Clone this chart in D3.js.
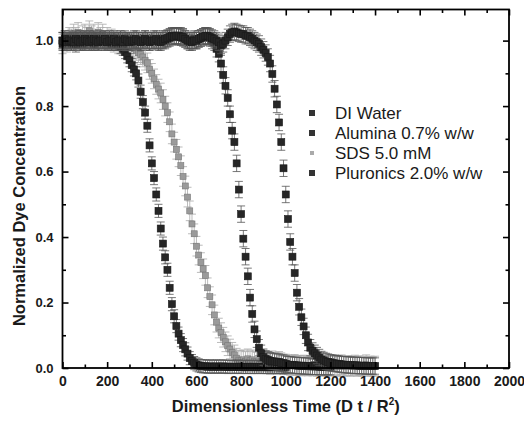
<!DOCTYPE html>
<html><head><meta charset="utf-8">
<script src="https://cdn.jsdelivr.net/npm/d3@7"></script>
<style>
body{margin:0;background:#fff}
svg{display:block}
text{font-family:Arial,"Liberation Sans",sans-serif}
</style>
</head><body>
<svg id="chart" width="524" height="421"></svg>
<script>
// ---- data ----
const seriesNames = ["DI Water", "Alumina 0.7% w/w", "SDS 5.0 mM", "Pluronics 2.0% w/w"];
const time = [0,10,20,30,40,50,60,70,80,90,100,110,120,130,140,150,160,170,180,190,
200,210,220,230,240,250,260,270,280,290,300,310,320,330,340,350,360,370,380,390,
400,410,420,430,440,450,460,470,480,490,500,510,520,530,540,550,560,570,580,590,
600,610,620,630,640,650,660,670,680,690,700,710,720,730,740,750,760,770,780,790,
800,810,820,830,840,850,860,870,880,890,900,910,920,930,940,950,960,970,980,990,
1000,1010,1020,1030,1040,1050,1060,1070,1080,1090,1100,1110,1120,1130,1140,1150,1160,1170,1180,1190,
1200,1210,1220,1230,1240,1250,1260,1270,1280,1290,1300,1310,1320,1330,1340,1350,1360,1370,1380,1390,1400];

const diWater = [
0.99,1.0,0.995,1.0,0.99,1.0,1.005,0.995,1.0,0.99,
1.0,0.995,1.005,1.0,0.99,1.0,0.995,1.0,1.005,0.995,
1.0,0.995,0.99,1.0,0.995,0.99,0.98,0.975,0.965,0.952,
0.94,0.925,0.912,0.9,0.878,0.844,0.812,0.78,0.74,0.68,
0.625,0.58,0.53,0.48,0.426,0.38,0.338,0.3,0.245,0.195,
0.158,0.128,0.105,0.085,0.07,0.057,0.044,0.03,0.021,0.015,
0.011,0.008,0.006,0.005,0.005,0.004,0.005,0.004,0.004,0.005,
0.004,0.004,0.005,0.004,0.003,0.004,0.004,0.003,0.004,0.004,
0.003,0.004,0.003,0.003,0.004,0.003,0.003,0.003,0.004,0.003,
0.003,0.003,0.003,0.002,0.003,0.003,0.002,0.003,0.003,0.002,
0.003];

const alumina = [
1.0,0.995,1.0,1.005,0.995,1.0,0.99,1.0,1.005,1.0,
0.995,1.0,1.005,0.995,1.0,1.0,0.995,1.005,1.0,0.995,
1.0,1.005,0.995,1.0,0.995,1.0,1.005,1.0,0.995,1.0,
1.0,0.995,1.005,1.0,1.0,0.995,1.0,1.005,1.0,0.995,
1.0,1.005,1.0,0.995,1.0,1.005,1.0,1.005,1.008,1.012,
1.015,1.015,1.012,1.015,1.008,1.005,1.0,0.995,1.0,1.005,
1.0,1.005,1.008,1.012,1.015,1.012,1.008,1.0,0.995,0.975,
0.96,0.93,0.895,0.862,0.825,0.775,0.725,0.69,0.625,0.545,
0.47,0.395,0.34,0.28,0.215,0.165,0.118,0.088,0.062,0.045,
0.033,0.028,0.025,0.022,0.02,0.02,0.018,0.018,0.015,0.015,
0.012,0.01,0.01,0.009,0.008,0.008,0.007,0.007,0.006,0.006,
0.006,0.005,0.005,0.005,0.005,0.004,0.004,0.004,0.004,0.004,
0.004];

const sds = [
0.99,1.0,0.995,1.01,1.005,1.02,1.01,1.025,1.0,1.015,
1.02,1.01,1.03,1.015,1.02,1.005,1.025,1.01,1.02,1.0,
1.01,1.0,1.005,0.995,1.0,0.99,1.0,0.995,0.99,0.99,
0.985,0.98,0.975,0.97,0.963,0.957,0.95,0.94,0.932,0.912,
0.9,0.883,0.866,0.852,0.84,0.82,0.8,0.78,0.752,0.715,
0.69,0.668,0.645,0.618,0.585,0.556,0.522,0.48,0.44,0.41,
0.372,0.345,0.322,0.303,0.283,0.245,0.218,0.193,0.162,0.14,
0.122,0.108,0.094,0.08,0.068,0.058,0.048,0.04,0.03,0.024,
0.022,0.025,0.02,0.028,0.022,0.025,0.02,0.018,0.022,0.02,
0.024,0.018,0.02,0.016,0.022,0.018,0.015,0.02,0.016,0.012,
0.012,0.01,0.008,0.009,0.011,0.007,0.008,0.006,0.009,0.007,
0.006,0.008,0.006,0.01,0.005,0.007,0.009,0.005,0.006,0.007,
0.008,0.005,0.009,0.006,0.005,0.01,0.005,0.006,0.008,0.005,
0.006,0.009,0.005,0.007,0.005,0.006,0.01,0.005,0.006,0.005,
0.006];

const pluronics = [
1.0,1.005,0.995,1.0,1.0,0.995,1.005,1.0,0.995,1.0,
1.005,1.0,0.995,1.0,1.005,1.0,0.995,1.0,1.0,1.005,
0.995,1.0,1.0,1.005,0.995,1.0,1.0,0.995,1.005,1.0,
0.995,1.0,1.0,1.005,1.0,0.995,1.0,1.005,1.0,0.995,
1.0,1.0,1.005,1.0,0.995,1.0,1.005,1.008,1.012,1.015,
1.012,1.015,1.015,1.01,1.012,1.005,1.0,1.0,0.995,1.0,
1.0,1.005,1.008,1.012,1.015,1.015,1.012,1.008,1.005,1.0,
0.995,0.985,0.99,1.0,1.01,1.02,1.025,1.028,1.025,1.022,
1.02,1.02,1.015,1.015,1.01,1.005,1.0,0.995,0.99,0.98,
0.972,0.962,0.95,0.93,0.898,0.853,0.805,0.75,0.69,0.61,
0.53,0.455,0.385,0.34,0.29,0.23,0.187,0.155,0.127,0.1,
0.078,0.062,0.052,0.045,0.038,0.032,0.026,0.023,0.02,0.018,
0.016,0.015,0.014,0.013,0.012,0.011,0.01,0.01,0.009,0.009,
0.008,0.008,0.008,0.007,0.007,0.007,0.006,0.006,0.006,0.006,
0.006];

const seriesErrors = [0.02, 0.025, 0.03, 0.025];
const xTicks = [0,200,400,600,800,1000,1200,1400,1600,1800,2000];
const xMinorTicks = [100,300,500,700,900,1100,1300,1500,1700,1900];
const yTicks = [0.0,0.2,0.4,0.6,0.8,1.0];
const yMinorTicks = [0.1,0.3,0.5,0.7,0.9];
const xTitle = "Dimensionless Time (D t / R";
const yTitle = "Normalized Dye Concentration";

// ---- build ----
const allValues = [diWater, alumina, sds, pluronics];
const seriesFill = ["#262626", "#262626", "#9a9a9a", "#262626"];
const seriesStroke = ["#1a1a1a", "#1a1a1a", "#777", "#1a1a1a"];
const errColor = ["#555", "#555", "#aaa", "#555"];

const svg = d3.select("#chart");
const L = 62.5, R = 509, T = 9.5, B = 368;
const x = d3.scaleLinear().domain([0, 2000]).range([L, R]);
const y = d3.scaleLinear().domain([0, 1.095]).range([B, T]);

const plot = svg.append("g");
const drawOrder = [2, 0, 1, 3];
drawOrder.forEach(si => {
  const vals = allValues[si];
  const pts = vals.map((v, i) => ({t: time[i], v}));
  const e = seriesErrors[si];
  const g = plot.append("g");
  const eb = g.selectAll("g.eb").data(pts).enter().append("g")
    .attr("stroke", errColor[si]).attr("stroke-width", 0.8);
  eb.append("line").attr("x1", d => x(d.t)).attr("x2", d => x(d.t))
    .attr("y1", d => y(d.v - e)).attr("y2", d => y(d.v + e));
  eb.append("line").attr("x1", d => x(d.t) - 4).attr("x2", d => x(d.t) + 4)
    .attr("y1", d => y(d.v + e)).attr("y2", d => y(d.v + e));
  eb.append("line").attr("x1", d => x(d.t) - 4).attr("x2", d => x(d.t) + 4)
    .attr("y1", d => y(d.v - e)).attr("y2", d => y(d.v - e));
  const s = si === 2 ? 6 : 7;
  g.selectAll("rect").data(pts).enter().append("rect")
    .attr("x", d => x(d.t) - s / 2).attr("y", d => y(d.v) - s / 2)
    .attr("width", s).attr("height", s)
    .attr("fill", seriesFill[si]).attr("stroke", seriesStroke[si]).attr("stroke-width", 0.6);
});

// axes
const axisStyle = g => {
  g.select(".domain").remove();
  g.selectAll("line").attr("stroke", "#000").attr("stroke-width", 1.6);
  g.selectAll("text").attr("font-weight", "bold").attr("fill", "#1a1a1a");
};
svg.append("g").attr("transform", `translate(0,${B})`)
  .call(d3.axisBottom(x).tickValues(xTicks).tickSize(-6).tickPadding(8).tickFormat(d3.format("d")))
  .call(axisStyle).call(g => g.selectAll("text").attr("font-size", 14));
svg.append("g").attr("transform", `translate(0,${B})`)
  .call(d3.axisBottom(x).tickValues(xMinorTicks).tickSize(-3.5).tickFormat("")).call(axisStyle);
svg.append("g").attr("transform", `translate(0,${T})`)
  .call(d3.axisTop(x).tickValues(xTicks).tickSize(-6).tickFormat("")).call(axisStyle);
svg.append("g").attr("transform", `translate(0,${T})`)
  .call(d3.axisTop(x).tickValues(xMinorTicks).tickSize(-3.5).tickFormat("")).call(axisStyle);
svg.append("g").attr("transform", `translate(${L},0)`)
  .call(d3.axisLeft(y).tickValues(yTicks).tickSize(-6).tickPadding(9).tickFormat(d3.format(".1f")))
  .call(axisStyle).call(g => g.selectAll("text").attr("font-size", 13));
svg.append("g").attr("transform", `translate(${L},0)`)
  .call(d3.axisLeft(y).tickValues(yMinorTicks).tickSize(-3.5).tickFormat("")).call(axisStyle);
svg.append("g").attr("transform", `translate(${R},0)`)
  .call(d3.axisRight(y).tickValues(yTicks).tickSize(-6).tickFormat("")).call(axisStyle);
svg.append("g").attr("transform", `translate(${R},0)`)
  .call(d3.axisRight(y).tickValues(yMinorTicks).tickSize(-3.5).tickFormat("")).call(axisStyle);

svg.append("rect").attr("x", L).attr("y", T).attr("width", R - L).attr("height", B - T)
  .attr("fill", "none").attr("stroke", "#000").attr("stroke-width", 1.8);

// titles
const xt = svg.append("text").attr("x", (L + R) / 2).attr("y", 412).attr("text-anchor", "middle")
  .attr("font-size", 16.5).attr("font-weight", "bold").attr("fill", "#1a1a1a");
xt.append("tspan").text(xTitle);
xt.append("tspan").attr("dy", -7).attr("font-size", 10).text("2");
xt.append("tspan").attr("dy", 7).text(")");

svg.append("text").attr("transform", "translate(25,206) rotate(-90)")
  .attr("text-anchor", "middle").attr("font-size", 16.5).attr("font-weight", "bold")
  .attr("fill", "#1a1a1a").text(yTitle);

// legend
const legY = [113, 133, 153, 173];
const leg = svg.append("g");
seriesNames.forEach((n, i) => {
  const s = i === 2 ? 4 : 6;
  leg.append("rect").attr("x", 312 - s / 2).attr("y", legY[i] - s / 2).attr("width", s).attr("height", s)
    .attr("fill", i === 2 ? "#aaa" : "#333");
  leg.append("text").attr("x", 335).attr("y", legY[i] + 6).attr("font-size", 17)
    .attr("fill", "#1a1a1a").text(n);
});
</script>
</body></html>
